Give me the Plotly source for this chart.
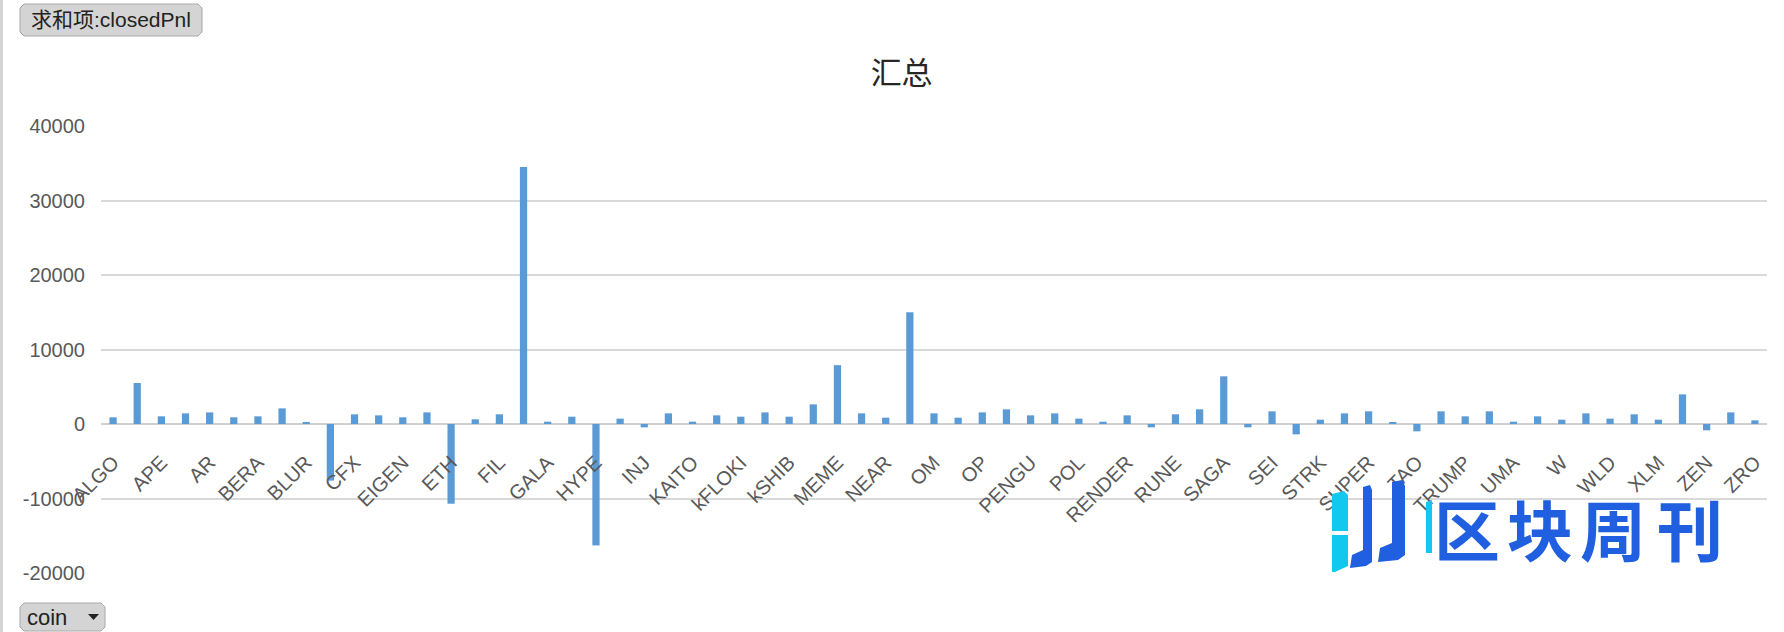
import plotly.graph_objects as go

coins = ["ALGO", "ANIME", "APE", "APT", "AR", "ARB", "BERA", "BIO", "BLUR", "BTC",
         "CFX", "DOGE", "EIGEN", "ENA", "ETH", "FET", "FIL", "FTM", "GALA", "GOAT",
         "HYPE", "IMX", "INJ", "JUP", "KAITO", "kBONK", "kFLOKI", "kPEPE", "kSHIB", "LINK",
         "MEME", "MOVE", "NEAR", "NOT", "OM", "ONDO", "OP", "ORDI", "PENGU", "PNUT",
         "POL", "RAY", "RENDER", "RSR", "RUNE", "S", "SAGA", "SAND", "SEI", "SOL",
         "STRK", "SUI", "SUPER", "SUSHI", "TAO", "TIA", "TRUMP", "TST", "UMA", "VIRTUAL",
         "W", "WIF", "WLD", "XAI", "XLM", "XRP", "ZEN", "ZK", "ZRO"]
closed_pnl = [900, 5500, 1030, 1430, 1560, 900, 1030, 2100, 220, -7600,
              1300, 1160, 900, 1560, -10700, 630, 1300, 34500, 310, 980,
              -16300, 720, -450, 1430, 310, 1160, 980, 1560, 980, 2640,
              7900, 1430, 850, 15000, 1430, 850, 1560, 1970, 1160, 1430,
              720, 310, 1160, -450, 1300, 1970, 6400, -450, 1700, -1390,
              580, 1430, 1700, 220, -980, 1700, 1030, 1700, 310, 1030,
              580, 1430, 720, 1300, 580, 3980, -850, 1560, 490]
shown_labels = coins[::2]
y_ticks = [-20000, -10000, 0, 10000, 20000, 30000, 40000]
y_tick_text = [str(v) for v in y_ticks]
watermark_chars = ["区", "块", "周", "刊"]

W, H = 1784, 632
L, R, T, B = 101, 1767, 126, 573


def px(x):
    return (x - L) / (R - L)


def py(y):
    return (B - y) / (B - T)


fig = go.Figure(go.Bar(x=coins, y=closed_pnl, marker=dict(color="#5b9bd5", line=dict(width=0)),
                       width=0.3))

fig.update_layout(
    width=W, height=H,
    margin=dict(l=L, r=W - R, t=T, b=H - B, autoexpand=False),
    paper_bgcolor="white", plot_bgcolor="white",
    showlegend=False,
    title=dict(text="汇总", x=px(943), xanchor="center", y=1 - 73 / H, yanchor="middle",
               font=dict(family="Noto Sans CJK SC", size=31, color="#262626")),
    font=dict(family="Liberation Sans, Arial", color="#595959"),
)
fig.update_xaxes(type="category", tickmode="array", tickvals=shown_labels, ticktext=shown_labels,
                 tickangle=-45, anchor="free", position=py(424), showgrid=False, showline=False,
                 ticks="", ticklabelstandoff=22, automargin=False,
                 tickfont=dict(size=20, color="#595959"), range=[-0.5, len(coins) - 0.5])
fig.update_yaxes(range=[-20000, 40000], tickvals=y_ticks, ticktext=y_tick_text,
                 showgrid=True, gridcolor="#d9d9d9",
                 gridwidth=1.5, zeroline=True, zerolinecolor="#d0d0d0", zerolinewidth=2,
                 showline=False, ticks="", ticklabelstandoff=15, automargin=False,
                 tickfont=dict(size=20, color="#595959"))

shapes = []
# left border of the sheet
shapes.append(dict(type="rect", xref="paper", yref="paper", x0=px(0), x1=px(3), y0=py(H), y1=py(0),
                   fillcolor="#d4d4d4", line=dict(width=0), layer="above"))


def btn(x0, x1, y0, y1):
    c = 4
    path = (f"M {px(x0 + c)} {py(y0)} L {px(x1 - c)} {py(y0)} L {px(x1)} {py(y0 + c)} "
            f"L {px(x1)} {py(y1 - c)} L {px(x1 - c)} {py(y1)} L {px(x0 + c)} {py(y1)} "
            f"L {px(x0)} {py(y1 - c)} L {px(x0)} {py(y0 + c)} Z")
    return dict(type="path", xref="paper", yref="paper", path=path, fillcolor="#d4d4d4",
                line=dict(color="#a8a8a8", width=1), layer="above")


shapes.append(btn(20, 202, 4, 36))
shapes.append(btn(20, 105, 603, 631))
# dropdown arrow
shapes.append(dict(type="path", xref="paper", yref="paper",
                   path=f"M {px(88)} {py(614)} L {px(99)} {py(614)} L {px(93.5)} {py(620)} Z",
                   fillcolor="#222222", line=dict(width=0), layer="above"))


def poly(pts, color):
    d = "M " + " L ".join(f"{px(a)} {py(b)}" for a, b in pts) + " Z"
    return dict(type="path", xref="paper", yref="paper", path=d, fillcolor=color,
                line=dict(width=0), layer="above")


# watermark logo
shapes.append(poly([(1332, 494), (1344, 491), (1348, 495), (1348, 531), (1332, 531)], "#12c8ee"))
shapes.append(poly([(1332, 535), (1348, 535), (1348, 566), (1335, 572), (1332, 572)], "#12c8ee"))
shapes.append(poly([(1363, 487), (1370, 485), (1372, 490), (1372, 562), (1366, 566), (1350, 568),
                    (1352, 555), (1363, 550)], "#1f5fe0"))
shapes.append(poly([(1392, 482), (1402, 480), (1405, 486), (1405, 555), (1398, 560), (1378, 562),
                    (1380, 548), (1392, 543)], "#1f5fe0"))
shapes.append(poly([(1426, 502), (1432, 500), (1432, 553), (1426, 553)], "#12c8ee"))

annotations = [
    dict(text="求和项:closedPnl", xref="paper", yref="paper", x=px(111), y=py(20),
         xanchor="center", yanchor="middle", showarrow=False,
         font=dict(family="Liberation Sans, Noto Sans CJK SC", size=21, color="#222222")),
    dict(text="coin", xref="paper", yref="paper", x=px(25), y=py(617),
         xanchor="left", yanchor="middle", showarrow=False,
         font=dict(family="Liberation Sans", size=22, color="#222222")),
]
for ch, cx in zip(watermark_chars, [1467, 1540, 1613, 1690]):
    annotations.append(dict(text=ch, xref="paper", yref="paper", x=px(cx), y=py(527),
                            xanchor="center", yanchor="middle", showarrow=False,
                            font=dict(family="Noto Sans CJK SC", size=66, color="#1f5fe0",
                                      weight="bold")))
fig.update_layout(shapes=shapes, annotations=annotations)

fig.write_html("out.html", config={"displayModeBar": False},
               post_script="document.body.style.margin='0px';")
